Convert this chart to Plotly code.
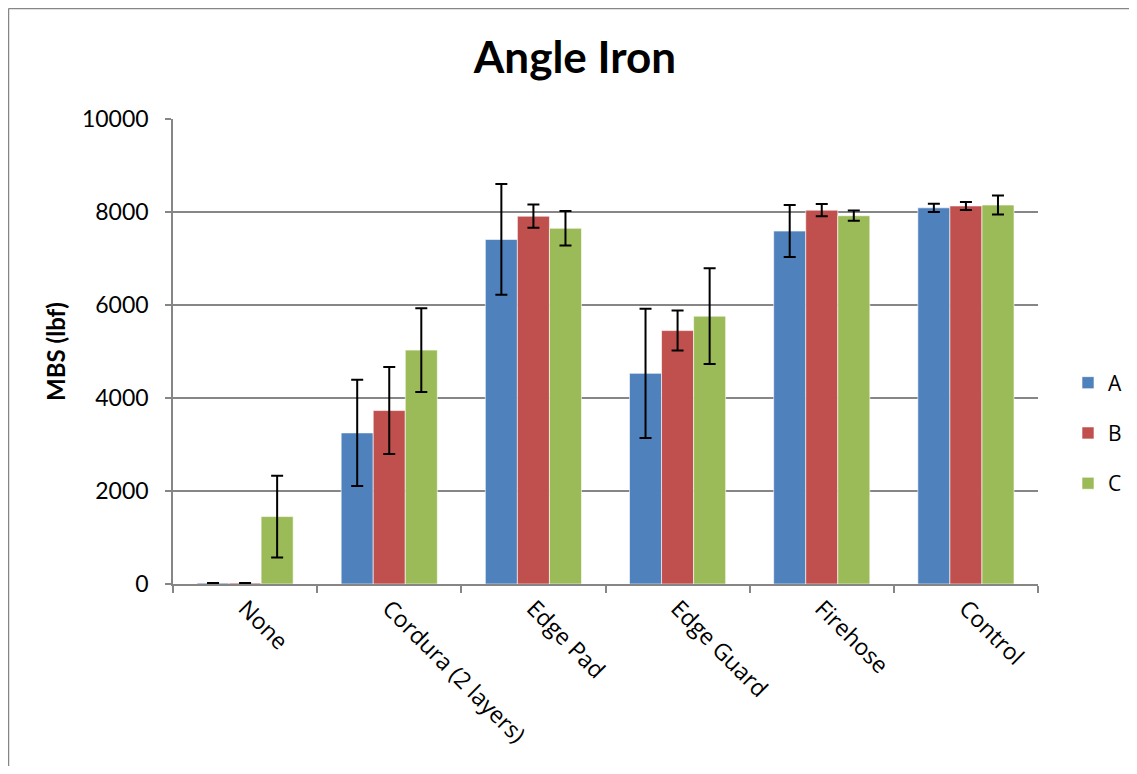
import plotly.graph_objects as go

categories = ["None", "Cordura (2 layers)", "Edge Pad", "Edge Guard", "Firehose", "Control"]
series_names = ["A", "B", "C"]
values_A = [20, 3250, 7410, 4530, 7590, 8090]
values_B = [20, 3730, 7910, 5450, 8040, 8130]
values_C = [1450, 5030, 7650, 5760, 7920, 8150]
err_A = [None, 1140, 1190, 1390, 560, 90]
err_B = [None, 935, 250, 430, 130, 85]
err_C = [880, 900, 370, 1030, 110, 205]
colors = ["#4F81BD", "#C0504D", "#9BBB59"]
y_ticks = [0, 2000, 4000, 6000, 8000, 10000]

FONT = "Open Sans, Lato, sans-serif"
OFF = 8  # page body margin

W, H = 1137 - 2 * OFF, 774 - 2 * OFF
L, T = 173 - OFF, 119 - OFF
R = OFF + W - 1038
B = OFF + H - 584
PW, PH = 1038 - 173, 584 - 119

fig = go.Figure()
for name, vals, errs, col in zip(series_names, [values_A, values_B, values_C],
                                 [err_A, err_B, err_C], colors):
    fig.add_trace(go.Bar(
        x=categories, y=vals, name=name, legendgroup=name,
        marker=dict(color=col, line=dict(color="rgba(255,255,255,0.6)", width=1)),
        error_y=dict(type="data", array=[float("nan") if e is None else e for e in errs],
                     visible=True, color="black", thickness=2, width=6),
    ))

fig.update_layout(
    width=W, height=H,
    margin=dict(l=L, r=R, t=T, b=B, autoexpand=False),
    paper_bgcolor="white", plot_bgcolor="white",
    barmode="group", bargap=0.333, bargroupgap=0,
    title=dict(text="<b>Angle Iron</b>", x=(575 - OFF) / W, xanchor="center",
               y=1 - (58 - OFF) / H, yanchor="middle",
               font=dict(family="Lato, sans-serif", size=44, color="black")),
    font=dict(family=FONT, color="black"),
    showlegend=True,
    legend=dict(xref="container", yref="container",
                x=(1068 - OFF) / W, xanchor="left",
                y=1 - (433 - OFF) / H, yanchor="middle",
                font=dict(family=FONT, size=21, color="black"),
                tracegroupgap=20, bgcolor="rgba(0,0,0,0)"),
    xaxis=dict(
        tickangle=45, tickfont=dict(family=FONT, size=23, color="black"),
        showline=True, linecolor="#868686", linewidth=1.5,
        ticks="outside", tickson="boundaries", ticklen=7, tickcolor="#868686",
        tickwidth=1.5, showgrid=False, automargin=False,
    ),
    yaxis=dict(
        range=[0, 10000], tickvals=y_ticks, ticktext=[str(v) for v in y_ticks],
        tickfont=dict(family="Lato, sans-serif", size=23, color="black"),
        showline=True, linecolor="#868686", linewidth=1.5,
        ticks="outside", ticklen=6, tickcolor="#868686", tickwidth=1.5,
        ticklabelstandoff=12, automargin=False,
        showgrid=True, gridcolor="#868686", gridwidth=1.5, zeroline=False,
        title=dict(text="<b>MBS (lbf)</b>", font=dict(family="Lato, sans-serif", size=24, color="black"),
                   standoff=10),
    ),
)

# chart-area border (left & top edges visible)
bx = (8.5 - 173) / PW
by = (584 - 8.5) / PH
fig.add_shape(type="line", xref="paper", yref="paper",
              x0=bx, x1=bx, y0=(584 - 800) / PH, y1=by,
              line=dict(color="#868686", width=1.5))
fig.add_shape(type="line", xref="paper", yref="paper",
              x0=bx, x1=(1160 - 173) / PW, y0=by, y1=by,
              line=dict(color="#868686", width=1.5))

fig.write_html("out.html")
